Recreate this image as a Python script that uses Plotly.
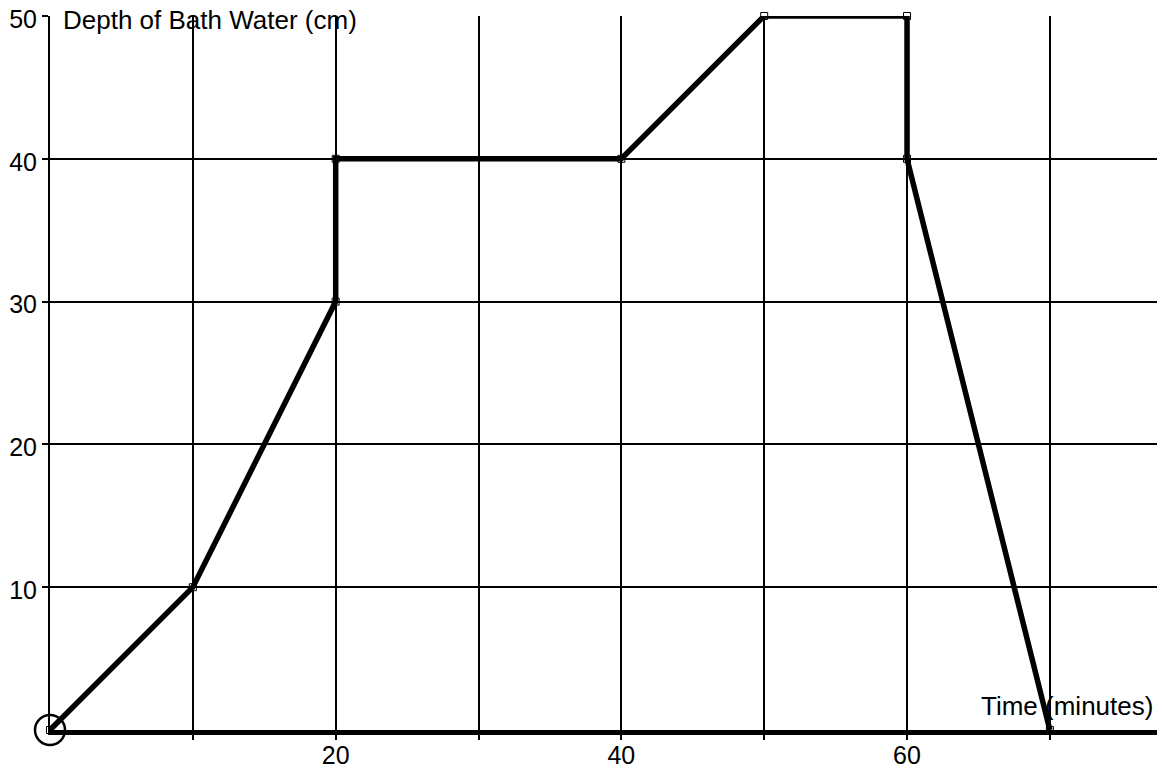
import plotly.graph_objects as go

time_min = [0, 10, 20, 20, 40, 50, 60, 60, 70]
depth_cm = [0, 10, 30, 40, 40, 50, 50, 40, 0]

x_ticks = [10, 20, 30, 40, 50, 60, 70]
x_labels = ["", "20", "", "40", "", "60", ""]
y_ticks = [10, 20, 30, 40, 50]
y_labels = ["10", "20", "30", "40", "50"]

fig = go.Figure()
fig.add_trace(go.Scatter(
    x=time_min, y=depth_cm, mode="lines+markers",
    line=dict(color="black", width=5.5),
    marker=dict(symbol="square-open", size=7, color="black", line=dict(width=1)),
    cliponaxis=False, showlegend=False, hoverinfo="skip"))
fig.add_trace(go.Scatter(
    x=[time_min[0]], y=[depth_cm[0]], mode="markers",
    marker=dict(symbol="circle-open", size=30, color="black", line=dict(width=2.5)),
    cliponaxis=False, showlegend=False, hoverinfo="skip"))

font = dict(family="Liberation Sans, Arial, sans-serif", size=25, color="black")
afont = dict(family="Liberation Sans, Arial, sans-serif", size=26, color="black")
fig.update_layout(
    width=1162, height=769,
    margin=dict(l=50, r=5, t=16, b=39),
    paper_bgcolor="white", plot_bgcolor="white",
    font=font,
    xaxis=dict(range=[0, 77.5], tickvals=x_ticks, ticktext=x_labels,
               showgrid=True, gridcolor="black", gridwidth=1.5,
               showline=True, linecolor="black", linewidth=5,
               ticks="outside", ticklen=5, tickcolor="black", tickwidth=2,
               ticklabelstandoff=-6, ticklabeloverflow="allow",
               zeroline=False, tickfont=font, automargin=False),
    yaxis=dict(range=[0, 50], tickvals=y_ticks, ticktext=y_labels,
               showgrid=True, gridcolor="black", gridwidth=1.5,
               showline=True, linecolor="black", linewidth=2,
               ticks="outside", ticklen=6, tickcolor="black", tickwidth=2,
               ticklabelshift=3, ticklabeloverflow="allow",
               zeroline=False, tickfont=font, automargin=False),
    annotations=[
        dict(text="Depth of Bath Water (cm)", x=0, y=50, xref="x", yref="y",
             xanchor="left", yanchor="middle", xshift=11, yshift=-4,
             showarrow=False, font=afont),
        dict(text="Time (minutes)", x=77.5, y=0, xref="x", yref="y",
             xanchor="right", yanchor="bottom", xshift=-2, yshift=7,
             showarrow=False, font=afont),
    ],
)
fig.write_html("out.html", config={"displayModeBar": False},
               post_script="document.body.style.margin='0px';")
